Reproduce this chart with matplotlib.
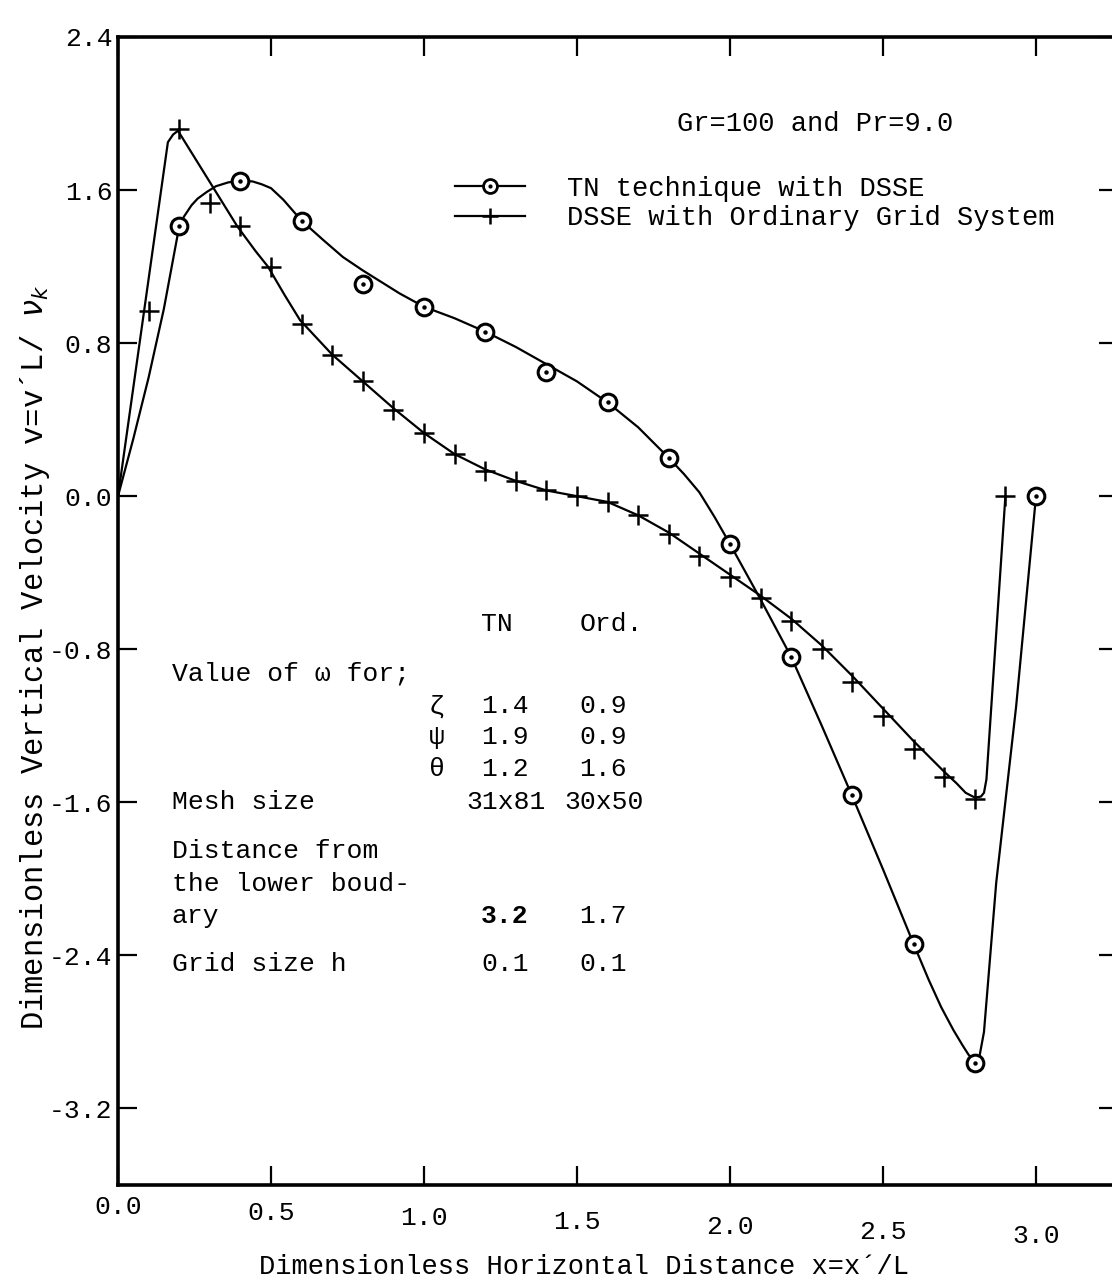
import matplotlib
matplotlib.use("Agg")
import matplotlib.pyplot as plt
from matplotlib.lines import Line2D

# TN technique with DSSE (circles)
tn_x = [0.2, 0.4, 0.6, 0.8, 1.0, 1.2, 1.4, 1.6, 1.8, 2.0, 2.2, 2.4, 2.6, 2.8, 3.0]
tn_y = [1.41, 1.65, 1.44, 1.11, 0.99, 0.86, 0.65, 0.49, 0.20, -0.25, -0.84, -1.56, -2.34, -2.96, 0.0]

# DSSE with ordinary grid system (plus signs)
ord_x = [0.1, 0.2, 0.3, 0.4, 0.5, 0.6, 0.7, 0.8, 0.9, 1.0, 1.1, 1.2, 1.3, 1.4, 1.5,
         1.6, 1.7, 1.8, 1.9, 2.0, 2.1, 2.2, 2.3, 2.4, 2.5, 2.6, 2.7, 2.8, 2.9]
ord_y = [0.97, 1.92, 1.53, 1.41, 1.20, 0.90, 0.74, 0.60, 0.45, 0.33, 0.22, 0.13, 0.08, 0.03, 0.0,
         -0.03, -0.10, -0.20, -0.31, -0.42, -0.53, -0.65, -0.80, -0.97, -1.15, -1.32, -1.47, -1.58, 0.0]

# hand drawn curves
tn_cx = [0.0, 0.05, 0.1, 0.15, 0.2, 0.215, 0.24, 0.26, 0.29, 0.32, 0.36, 0.40, 0.44, 0.47, 0.50,
         0.54, 0.60, 0.67, 0.735, 0.8, 0.85, 0.92, 1.0, 1.1, 1.2, 1.3, 1.4, 1.5, 1.6, 1.7, 1.8,
         1.85, 1.9, 1.95, 2.0, 2.1, 2.2, 2.3, 2.4, 2.5, 2.6, 2.65, 2.69, 2.73, 2.76, 2.78, 2.80,
         2.815, 2.83, 2.87, 2.935, 3.0]
tn_cy = [0.0, 0.30, 0.62, 0.98, 1.41, 1.46, 1.52, 1.555, 1.59, 1.62, 1.64, 1.65, 1.645, 1.63, 1.61,
         1.55, 1.44, 1.34, 1.25, 1.18, 1.13, 1.06, 0.99, 0.93, 0.86, 0.78, 0.69, 0.60, 0.49, 0.36, 0.20,
         0.115, 0.02, -0.11, -0.25, -0.54, -0.84, -1.20, -1.57, -1.95, -2.34, -2.53, -2.67, -2.79, -2.87, -2.92, -2.95,
         -2.93, -2.80, -2.02, -1.10, 0.0]

ord_cx = [0.0, 0.163, 0.18, 0.196, 0.39, 0.45, 0.49, 0.545, 0.595, 0.70, 0.80, 0.90, 1.0, 1.1,
          1.2, 1.3, 1.4, 1.5, 1.6, 1.7, 1.8, 1.9, 2.0, 2.1, 2.2, 2.3, 2.4, 2.5, 2.6, 2.7,
          2.74, 2.77, 2.80, 2.82, 2.83, 2.838, 2.90]
ord_cy = [0.0, 1.85, 1.89, 1.91, 1.41, 1.28, 1.20, 1.05, 0.92, 0.74, 0.60, 0.46, 0.33, 0.22,
          0.14, 0.08, 0.03, 0.0, -0.03, -0.10, -0.19, -0.30, -0.41, -0.52, -0.64, -0.78, -0.94, -1.11, -1.28, -1.44,
          -1.50, -1.55, -1.575, -1.57, -1.55, -1.48, 0.0]

xticks = [0.0, 0.5, 1.0, 1.5, 2.0, 2.5, 3.0]
yticks = [-3.2, -2.4, -1.6, -0.8, 0.0, 0.8, 1.6, 2.4]

labels = ["TN technique with DSSE", "DSSE with Ordinary Grid System"]
header = ["TN", "Ord."]
omega_sym = ["ζ", "ψ", "θ"]
omega_tn = ["1.4", "1.9", "1.2"]
omega_ord = ["0.9", "0.9", "1.6"]

mono = ["Liberation Mono", "DejaVu Sans Mono"]

fig = plt.figure(figsize=(11.12, 12.83), dpi=100)
ax = fig.add_axes([118 / 1112, 98 / 1283, 1000 / 1112, 1148 / 1283])
ax.set_xlim(0, 1000 / 306)
ax.set_ylim(-3.6, 2.4)

ax.plot(tn_cx, tn_cy, color="black", lw=1.6)
ax.plot(ord_cx, ord_cy, color="black", lw=1.6)
ax.plot(tn_x, tn_y, ls="none", marker="o", ms=12, mfc="white", mec="black", mew=2.2)
ax.plot(tn_x, tn_y, ls="none", marker="o", ms=2.2, color="black")
ax.plot(ord_x, ord_y, ls="none", marker="+", ms=15, mew=1.8, color="black")

for s in ax.spines.values():
    s.set_linewidth(2.6)

ax.set_xticks(xticks, [f"{v:.1f}" for v in xticks])
ax.set_yticks(yticks, [f"{v:.1f}" for v in yticks])
ax.tick_params(axis="both", direction="in", length=14, width=1.6,
               top=True, right=True, labelsize=19)
ax.tick_params(axis="y", pad=4)
for lab in ax.get_xticklabels() + ax.get_yticklabels():
    lab.set_family(mono)
# typed labels drift downward across the page
for t, p in zip(ax.xaxis.get_major_ticks(), [7, 11.5, 15, 18, 21.5, 25, 28]):
    t.set_pad(p)

ax.set_xlabel("Dimensionless Horizontal Distance x=x´/L", family=mono, fontsize=19.5)
ax.xaxis.set_label_coords(0.466, -0.06)
ax.set_ylabel("Dimensionless Vertical Velocity v=v´L/ $\\nu_k$", family=mono, fontsize=22)
ax.yaxis.set_label_coords(-0.066, 0.46)

ax.text(0.559, 0.924, "Gr=100 and Pr=9.0", transform=ax.transAxes, family=mono,
        fontsize=19.5, va="center", ha="left")

h_tn = (Line2D([], [], color="black", lw=1.6, marker="o", ms=10, mfc="white", mew=2),
        Line2D([], [], ls="none", marker="o", ms=2, color="black"))
h_ord = Line2D([], [], color="black", lw=1.6, marker="+", ms=12, mew=1.8)
ax.legend([h_tn, h_ord], labels, loc="upper left", bbox_to_anchor=(0.337, 0.879),
          frameon=False, borderpad=0, borderaxespad=0, handlelength=2.6,
          handletextpad=1.55, labelspacing=0.12, prop={"family": mono, "size": 19.5})

# parameter table
tk = dict(family=mono, fontsize=19, va="center", ha="left")
ax.text(1.186, -0.669, header[0], **tk)
ax.text(1.507, -0.669, header[1], **tk)
ax.text(0.176, -0.925, "Value of ω for;", **tk)
for i, yy in enumerate([-1.098, -1.260, -1.427]):
    ax.text(1.016, yy, omega_sym[i], **tk)
    ax.text(1.186, yy, omega_tn[i], **tk)
    ax.text(1.507, yy, omega_ord[i], **tk)
ax.text(0.176, -1.600, "Mesh size", **tk)
ax.text(1.137, -1.600, "31x81", **tk)
ax.text(1.458, -1.600, "30x50", **tk)
ax.text(0.176, -1.856, "Distance from", **tk)
ax.text(0.176, -2.029, "the lower boud-", **tk)
ax.text(0.176, -2.196, "ary", **tk)
ax.text(1.186, -2.196, "3.2", fontweight="bold", **tk)
ax.text(1.507, -2.196, "1.7", **tk)
ax.text(0.176, -2.447, "Grid size h", **tk)
ax.text(1.186, -2.447, "0.1", **tk)
ax.text(1.507, -2.447, "0.1", **tk)

fig.savefig("out.png", dpi=100)
